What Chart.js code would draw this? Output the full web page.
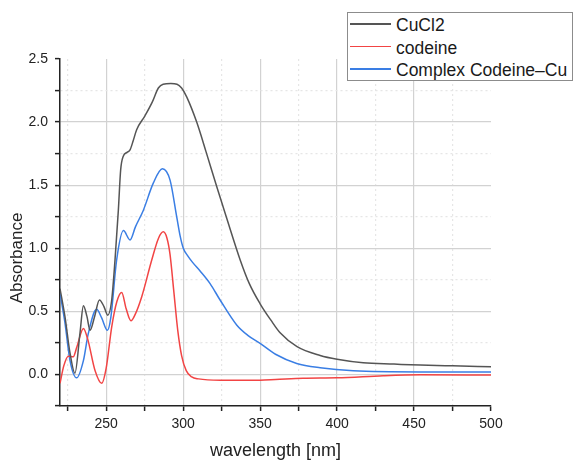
<!DOCTYPE html>
<html>
<head>
<meta charset="utf-8">
<script src="https://cdn.jsdelivr.net/npm/chart.js@4/dist/chart.umd.min.js"></script>
<style>
    body { margin: 0; background: #fff; }
    #wrap { position: relative; width: 576px; height: 462px; }
    #legend {
        position: absolute; left: 347px; top: 12px; width: 224px; height: 67px;
        border: 1px solid #8c8c8c; background: #fff;
        font-family: 'Liberation Sans', Arial, sans-serif; font-size: 17.5px; color: #1a1a1a;
    }
    .item { position: absolute; left: 0; height: 22px; width: 100%; }
    .item .line { position: absolute; left: 2px; top: 10px; width: 41px; height: 1.5px; }
    .item .txt { position: absolute; left: 48px; top: 1px; line-height: 22px; white-space: nowrap; }
</style>
</head>
<body>
<div id="wrap">
    <canvas id="myChart" width="576" height="462"></canvas>
    <div id="legend"></div>
</div>
<script>
const seriesNames = ['CuCl2', 'codeine', 'Complex Codeine\u2013Cu'];
const seriesColors = ['#555555', '#f24444', '#3a7ee4'];

// CuCl2
const cuclX = [220, 223.2, 226.5, 229.7, 233, 235.2, 237.5, 239.5, 242.5, 245.6, 248.5, 251, 253.5, 255.7, 257.9, 259.4, 261.1, 263.5, 265.5, 267.5, 269.8, 275.2, 280, 283.9, 287, 292, 296, 299, 302.3, 308.8, 315, 321.8, 328, 337, 343, 350, 357, 363, 374, 389, 400, 417, 437, 454, 475, 500];
const cuclY = [0.68, 0.46, 0.17, 0.01, 0.33, 0.545, 0.46, 0.35, 0.46, 0.59, 0.54, 0.47, 0.58, 0.9, 1.3, 1.62, 1.73, 1.76, 1.78, 1.85, 1.94, 2.05, 2.16, 2.27, 2.3, 2.305, 2.3, 2.27, 2.2, 2.0, 1.76, 1.49, 1.25, 0.91, 0.72, 0.56, 0.43, 0.33, 0.22, 0.15, 0.12, 0.092, 0.082, 0.074, 0.068, 0.062];

// codeine
const codeineX = [220, 222.5, 225.4, 228.6, 231, 235.2, 238, 242.7, 247.1, 250, 253.6, 257, 260.1, 263, 266.1, 269, 273.1, 279.6, 284, 287.1, 289.5, 291.5, 294, 296.5, 299, 302, 305.6, 310, 324, 350, 360, 378, 400, 430, 454, 500];
const codeineY = [-0.07, 0.07, 0.145, 0.14, 0.22, 0.365, 0.28, 0.034, -0.07, 0.05, 0.378, 0.58, 0.65, 0.52, 0.425, 0.48, 0.616, 0.907, 1.08, 1.13, 1.08, 0.95, 0.65, 0.35, 0.15, 0.03, -0.02, -0.035, -0.045, -0.045, -0.04, -0.03, -0.027, -0.01, -0.003, -0.005];

// Complex Codeine-Cu
const complexX = [220, 223.2, 226.5, 230.8, 235.2, 238.4, 243.8, 247, 250.8, 253, 256.8, 261.2, 265.5, 269, 274.1, 280.6, 286.5, 291.5, 295.8, 298, 300.1, 303, 306, 311, 317.5, 324, 334.9, 342, 350, 360, 373.8, 389, 410.6, 454, 500];
const complexY = [0.645, 0.41, 0.11, -0.027, 0.11, 0.325, 0.516, 0.45, 0.35, 0.45, 0.907, 1.14, 1.066, 1.17, 1.3, 1.516, 1.63, 1.54, 1.25, 1.1, 1.0, 0.94, 0.89, 0.82, 0.72, 0.59, 0.39, 0.31, 0.246, 0.16, 0.087, 0.053, 0.029, 0.02, 0.02];

const xMin = 220, xMax = 500;
const yMin = -0.25, yMax = 2.5;

function toPoints(xs, ys) {
    return xs.map((x, i) => ({ x: x, y: ys[i] }));
}

const fontFamily = "'Liberation Sans', Arial, sans-serif";

const datasets = [[cuclX, cuclY], [codeineX, codeineY], [complexX, complexY]].map((pair, i) => ({
    label: seriesNames[i],
    data: toPoints(pair[0], pair[1]),
    borderColor: seriesColors[i],
    backgroundColor: seriesColors[i],
    borderWidth: 1.5,
    pointRadius: 0,
    showLine: true,
    cubicInterpolationMode: 'monotone',
}));

function isMajor(v, step) {
    return Math.abs(v / step - Math.round(v / step)) < 1e-6;
}

function gridColor(step, edges) {
    return ctx => {
        if (!ctx.tick) return '#d2d2d2';
        const v = ctx.tick.value;
        if (edges.some(e => Math.abs(e - v) < 1e-6)) return 'rgba(0,0,0,0)';
        return isMajor(v, step) ? '#d2d2d2' : '#e6e6e6';
    };
}

function gridDash(step) {
    return ctx => (ctx.tick && !isMajor(ctx.tick.value, step)) ? [2, 3] : [];
}

// y title sits a bit below the middle of the axis, as in the original
const yTitlePlugin = {
    id: 'yTitle',
    afterDraw(chart) {
        const c = chart.ctx;
        c.save();
        c.translate(17, 258);
        c.rotate(-Math.PI / 2);
        c.textAlign = 'center';
        c.textBaseline = 'middle';
        c.fillStyle = '#222';
        c.font = "17px " + fontFamily;
        c.fillText('Absorbance', 0, 0);
        c.restore();
    },
};

const ctx = document.getElementById('myChart').getContext('2d');
new Chart(ctx, {
    type: 'scatter',
    data: { datasets },
    plugins: [yTitlePlugin],
    options: {
        responsive: false,
        animation: false,
        layout: { padding: { left: 0, right: 85, top: 59, bottom: 0 } },
        plugins: {
            legend: { display: false },
            tooltip: { enabled: false },
        },
        scales: {
            x: {
                type: 'linear',
                min: xMin,
                max: xMax,
                afterFit: scale => { scale.height = 56; },
                ticks: {
                    stepSize: 25,
                    includeBounds: false,
                    autoSkip: false,
                    maxRotation: 0,
                    padding: 5,
                    color: '#222',
                    font: { family: fontFamily, size: 14 },
                    callback: value => isMajor(value, 50) ? String(value) : '',
                },
                grid: {
                    color: gridColor(50, [xMax]),
                    lineWidth: 1.2,
                    tickLength: 5,
                    tickColor: '#222',
                    tickWidth: 1.5,
                },
                border: { color: '#222', width: 1.5, dash: gridDash(50) },
                title: {
                    display: true,
                    text: 'wavelength [nm]',
                    color: '#222',
                    font: { family: fontFamily, size: 18 },
                    padding: { top: 0, bottom: 0 },
                },
            },
            y: {
                min: yMin,
                max: yMax,
                afterFit: scale => { scale.width = 60; },
                ticks: {
                    stepSize: 0.25,
                    autoSkip: false,
                    padding: 7,
                    color: '#222',
                    font: { family: fontFamily, size: 14 },
                    callback: value => (value >= 0 && isMajor(value, 0.5)) ? value.toFixed(1) : '',
                },
                grid: {
                    color: gridColor(0.5, [yMin, yMax]),
                    lineWidth: 1.2,
                    tickLength: 5,
                    tickColor: '#222',
                    tickWidth: 1.5,
                },
                border: { color: '#222', width: 1.5, dash: gridDash(0.5) },
                title: { display: false, text: 'Absorbance' },
            },
        },
    },
});

const legend = document.getElementById('legend');
seriesNames.forEach((name, i) => {
    const item = document.createElement('div');
    item.className = 'item';
    item.style.top = (i * 22.5) + 'px';
    const line = document.createElement('div');
    line.className = 'line';
    line.style.backgroundColor = seriesColors[i];
    const txt = document.createElement('div');
    txt.className = 'txt';
    txt.textContent = name;
    item.appendChild(line);
    item.appendChild(txt);
    legend.appendChild(item);
});
</script>
</body>
</html>
